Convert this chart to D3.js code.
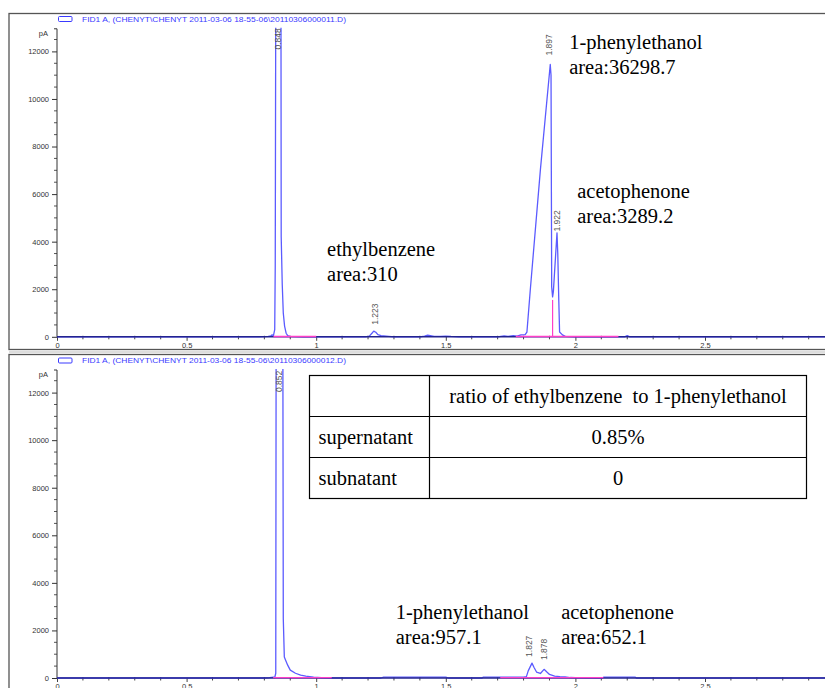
<!DOCTYPE html>
<html><head><meta charset="utf-8">
<script src="https://cdn.jsdelivr.net/npm/d3@7/dist/d3.min.js"></script>
<style>
html,body{margin:0;padding:0;background:#fff;}
svg{display:block;}
.serif{font-family:"Liberation Serif","Times New Roman",Tinos,serif;}
.sans{font-family:"Liberation Sans",Arial,Arimo,sans-serif;}
</style></head>
<body>
<svg id="chart" width="825" height="688"></svg>
<script>
// ---------- DATA ----------
const topTitle = "FID1 A, (CHENYT\\CHENYT 2011-03-06 18-55-06\\20110306000011.D)";
const botTitle = "FID1 A, (CHENYT\\CHENYT 2011-03-06 18-55-06\\20110306000012.D)";

const xTickValues = [0, 0.5, 1, 1.5, 2, 2.5, 3];
const xTickLabels = ["0", "0.5", "1", "1.5", "2", "2.5", "3"];
const yTickValues = [0, 2000, 4000, 6000, 8000, 10000, 12000];
const yUnit = "pA";

// top chromatogram (retention time in min, signal in pA)
const topTime = [0, 0.78, 0.80, 0.815, 0.825, 0.83, 0.835, 0.84, 0.842, 0.845, 0.8635, 0.865, 0.869, 0.873, 0.878, 0.884, 0.89, 0.9, 0.95,
  1.19, 1.205, 1.215, 1.222, 1.23, 1.238, 1.25, 1.27, 1.3, 1.4, 1.418, 1.43, 1.44, 1.455, 1.48, 1.5, 1.52, 1.55,
  1.7, 1.725, 1.74, 1.76, 1.775, 1.79, 1.806, 1.813, 1.826, 1.865, 1.903, 1.906, 1.9085, 1.912, 1.915, 1.929, 1.932, 1.936, 1.939, 1.95, 1.961, 2.0,
  2.19, 2.2, 2.21, 3.2];
const topSignal = [0, 0, 10, 20, 40, 80, 50, 300, 3000, 20000, 20000, 4200, 2200, 1000, 450, 150, 50, 20, 0,
  0, 30, 150, 240, 190, 90, 50, 30, 0, 0, 30, 70, 50, 15, 20, 30, 15, 0,
  0, 40, 20, 50, 30, 80, 90, 200, 1980, 7030, 11450, 11000, 2100, 1680, 1900, 4370, 3500, 1500, 200, 80, 20, 0,
  0, 50, 0, 0];

// bottom chromatogram
const botTime = [0, 0.8, 0.82, 0.835, 0.84, 0.844, 0.846, 0.8705, 0.873, 0.877, 0.882, 0.89, 0.9, 0.92, 0.94, 0.96, 0.99, 1.02, 1.06,
  1.25, 1.26, 1.5, 1.51, 1.64, 1.645, 1.71, 1.8, 1.811, 1.818, 1.8325, 1.84, 1.85, 1.865, 1.879, 1.89, 1.9, 1.92, 1.94, 1.96, 1.98, 2.0,
  2.105, 2.11, 2.23, 2.235, 3.2];
const botSignal = [0, 0, 15, 40, 20, 200, 20000, 20000, 2500, 880, 750, 540, 330, 200, 120, 80, 40, 10, 0,
  0, 40, 40, 0, 0, 40, 40, 40, 60, 300, 625, 450, 250, 190, 365, 250, 150, 80, 60, 50, 20, 10,
  0, 40, 40, 0, 0];

// integration baselines [start, end]
const topBaselines = [[0.835, 1.0], [1.77, 2.166]];
const topDropLines = [[1.912, 1550]];
const botBaselines = [[0.834, 1.06], [1.71, 2.108]];

// peak retention-time labels and apex levels
const topPeakLabels = ["0.848", "1.223", "1.897", "1.922"];
const topPeakTimes = [0.851, 1.225, 1.9, 1.929];
const topPeakLevels = [11950, 380, 11700, 4300];
const botPeakLabels = ["0.852", "1.827", "1.878"];
const botPeakTimes = [0.855, 1.82, 1.878];
const botPeakLevels = [11900, 760, 630];

// compound annotations
const topNotes = [
  {name: "1-phenylethanol", area: "area:36298.7", t: 1.976, v: 12100},
  {name: "acetophenone", area: "area:3289.2", t: 2.007, v: 5850},
  {name: "ethylbenzene", area: "area:310", t: 1.042, v: 3410}
];
const botNotes = [
  {name: "1-phenylethanol", area: "area:957.1", t: 1.307, v: 2460},
  {name: "acetophenone", area: "area:652.1", t: 1.945, v: 2460}
];

// table
const tableHeader = ["", "ratio of ethylbenzene  to 1-phenylethanol"];
const tableRows = ["supernatant", "subnatant"];
const tableValues = ["0.85%", "0"];

// ---------- DRAW ----------
const svg = d3.select("#chart");
const blue = "#5b5bff", navy = "#23238f", pink = "#ff3fc8", titleBlue = "#3a3aff";

// frames
svg.append("rect").attr("x", 9).attr("y", 13.5).attr("width", 830).attr("height", 336)
  .attr("fill", "none").attr("stroke", "#555").attr("stroke-width", 1.3);
svg.append("line").attr("x1", 9).attr("x2", 830).attr("y1", 352).attr("y2", 352)
  .attr("stroke", "#bbb").attr("stroke-width", 1.2);
svg.append("rect").attr("x", 9).attr("y", 354.5).attr("width", 830).attr("height", 340)
  .attr("fill", "none").attr("stroke", "#555").attr("stroke-width", 1.3);

function panel(cfg) {
  const g = svg.append("g");
  const x = d3.scaleLinear().domain([0, 3]).range([57, 57 + 3 * 259.2]);
  const y = d3.scaleLinear().domain([0, 12950]).range([cfg.base, cfg.base - 308]);
  const clipId = "clip" + cfg.id;
  svg.append("clipPath").attr("id", clipId).append("rect")
    .attr("x", 57).attr("y", cfg.base - 309).attr("width", 780).attr("height", 312);

  // title + legend symbol
  g.append("rect").attr("x", 58.5).attr("y", cfg.titleY - 5).attr("width", 13.5).attr("height", 5)
    .attr("rx", 1).attr("fill", "none").attr("stroke", titleBlue).attr("stroke-width", 1);
  g.append("text").attr("class", "sans").attr("x", 82).attr("y", cfg.titleY).attr("font-size", 8)
    .attr("fill", titleBlue).attr("textLength", 264).attr("lengthAdjust", "spacingAndGlyphs").text(cfg.title);

  // y axis
  const yAxis = d3.axisLeft(y).tickValues(yTickValues).tickSize(5).tickPadding(3).tickFormat(d3.format("d"));
  const ya = g.append("g").attr("transform", "translate(57,0)").call(yAxis);
  ya.select(".domain").remove();
  ya.selectAll("text").attr("class", "sans").attr("font-size", 7.5).attr("fill", "#333");
  ya.selectAll("line").attr("stroke", "#333");
  const yMinor = d3.range(500, 12950, 500).filter(v => v % 2000 !== 0);
  g.selectAll(null).data(yMinor).join("line")
    .attr("x1", 54).attr("x2", 57).attr("y1", d => y(d)).attr("y2", d => y(d))
    .attr("stroke", "#555");
  g.append("line").attr("x1", 57).attr("x2", 57).attr("y1", y(12950)).attr("y2", y(0))
    .attr("stroke", "#333").attr("stroke-width", 1);
  g.append("line").attr("x1", 54).attr("x2", 57).attr("y1", y(12950)).attr("y2", y(12950)).attr("stroke", "#333");
  g.append("text").attr("class", "sans").attr("x", 48).attr("y", y(12950) + 7).attr("text-anchor", "end")
    .attr("font-size", 7.5).attr("fill", "#333").text(yUnit);

  // x axis ticks
  const xAxis = d3.axisBottom(x).tickValues(xTickValues).tickSize(4).tickPadding(2)
    .tickFormat((d, i) => xTickLabels[i]);
  const xa = g.append("g").attr("transform", `translate(0,${cfg.base})`).call(xAxis);
  xa.select(".domain").remove();
  xa.selectAll("text").attr("class", "sans").attr("font-size", 7.5).attr("fill", "#333");
  xa.selectAll("line").attr("stroke", "#444");
  const xMinor = d3.range(1, 31).map(i => i / 10).filter(v => Math.abs(v * 2 - Math.round(v * 2)) > 1e-6);
  g.selectAll(null).data(xMinor).join("line")
    .attr("x1", d => x(d)).attr("x2", d => x(d)).attr("y1", cfg.base - 1).attr("y2", cfg.base + 2.5)
    .attr("stroke", "#444");

  // signal
  const pts = cfg.time.map((t, i) => [t, cfg.signal[i]]);
  const line = d3.line().x(d => x(d[0])).y(d => y(d[1]));
  const plot = g.append("g").attr("clip-path", `url(#${clipId})`);
  plot.append("path").attr("d", line(pts)).attr("fill", "none")
    .attr("stroke", blue).attr("stroke-width", 1.3).attr("stroke-linejoin", "round");
  // baseline (axis)
  g.append("line").attr("x1", 57).attr("x2", 825).attr("y1", y(0)).attr("y2", y(0))
    .attr("stroke", navy).attr("stroke-width", 1.4);
  // integration baselines
  cfg.baselines.forEach(b => {
    g.append("line").attr("x1", x(b[0])).attr("x2", x(b[1])).attr("y1", y(0) - 0.3).attr("y2", y(0) - 0.3)
      .attr("stroke", pink).attr("stroke-width", 1.3);
  });
  (cfg.drops || []).forEach(d => {
    g.append("line").attr("x1", x(d[0])).attr("x2", x(d[0])).attr("y1", y(0)).attr("y2", y(d[1]))
      .attr("stroke", pink).attr("stroke-width", 1.2);
  });

  // peak labels
  cfg.peakLabels.forEach((lab, i) => {
    g.append("text").attr("class", "sans")
      .attr("transform", `translate(${x(cfg.peakTimes[i])},${y(cfg.peakLevels[i]) - 3}) rotate(-90)`)
      .attr("dy", "0.35em").attr("font-size", 8.5).attr("fill", "#555")
      .text(lab);
  });

  // annotations
  cfg.notes.forEach(n => {
    const t = g.append("text").attr("class", "serif").attr("x", x(n.t)).attr("y", y(n.v))
      .attr("font-size", 20.5).attr("fill", "#000");
    t.append("tspan").attr("x", x(n.t)).text(n.name);
    t.append("tspan").attr("x", x(n.t)).attr("dy", 25).text(n.area);
  });
  return {x, y};
}

panel({id: "top", base: 336.8, titleY: 21.5, title: topTitle, time: topTime, signal: topSignal,
  baselines: topBaselines, drops: topDropLines, peakLabels: topPeakLabels, peakTimes: topPeakTimes,
  peakLevels: topPeakLevels, notes: topNotes});
panel({id: "bot", base: 678, titleY: 363, title: botTitle, time: botTime, signal: botSignal,
  baselines: botBaselines, drops: [], peakLabels: botPeakLabels, peakTimes: botPeakTimes,
  peakLevels: botPeakLevels, notes: botNotes});

// table
const tb = svg.append("g");
const colX = [309.5, 429.5, 806.5];
const rowY = [375.5, 416.5, 457.5, 498.5];
tb.append("rect").attr("x", colX[0]).attr("y", rowY[0]).attr("width", colX[2] - colX[0])
  .attr("height", rowY[3] - rowY[0]).attr("fill", "#fff").attr("stroke", "#000").attr("stroke-width", 1.2);
tb.selectAll(null).data(rowY.slice(1, 3)).join("line")
  .attr("x1", colX[0]).attr("x2", colX[2]).attr("y1", d => d).attr("y2", d => d)
  .attr("stroke", "#000").attr("stroke-width", 1.2);
tb.append("line").attr("x1", colX[1]).attr("x2", colX[1]).attr("y1", rowY[0]).attr("y2", rowY[3])
  .attr("stroke", "#000").attr("stroke-width", 1.2);
const cx = (colX[1] + colX[2]) / 2;
tb.append("text").attr("class", "serif").attr("x", cx).attr("y", rowY[0] + 27).attr("text-anchor", "middle")
  .attr("font-size", 20.5).style("white-space", "pre").text(tableHeader[1]);
tableRows.forEach((r, i) => {
  tb.append("text").attr("class", "serif").attr("x", colX[0] + 9).attr("y", rowY[i + 1] + 27)
    .attr("font-size", 20.5).text(r);
  tb.append("text").attr("class", "serif").attr("x", cx).attr("y", rowY[i + 1] + 27).attr("text-anchor", "middle")
    .attr("font-size", 20.5).text(tableValues[i]);
});
</script>
</body></html>
